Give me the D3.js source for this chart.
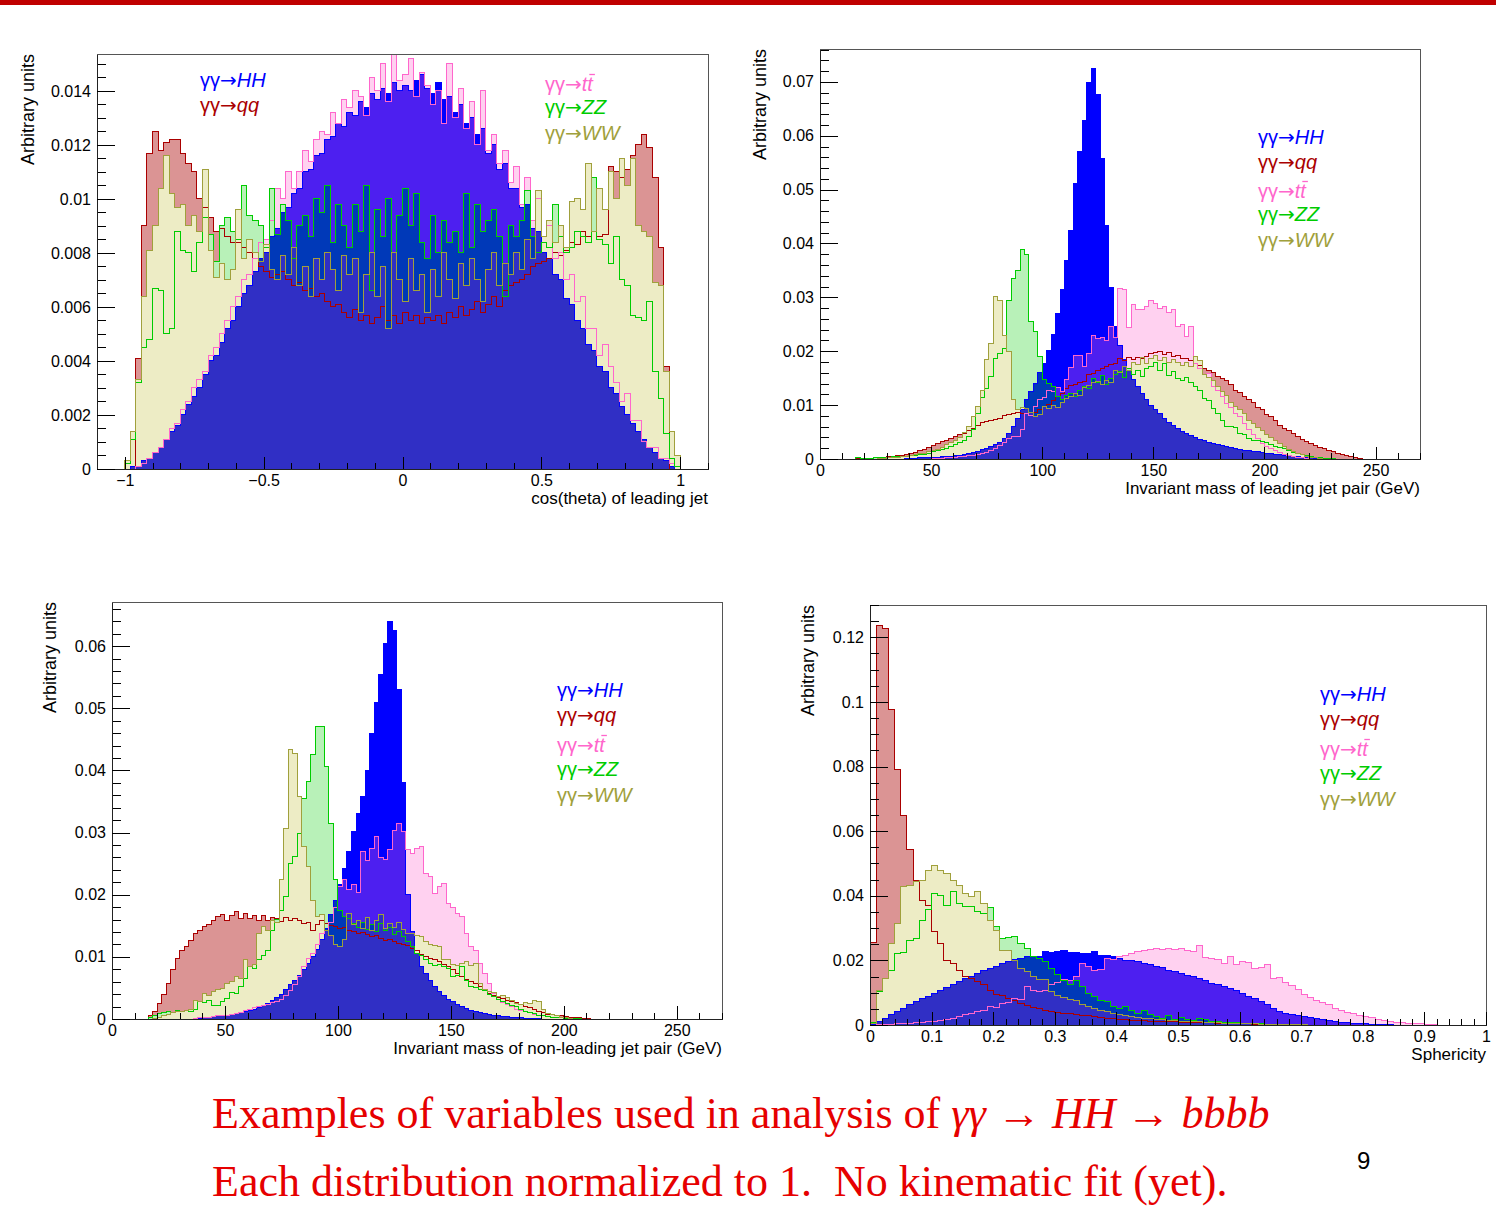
<!DOCTYPE html>
<html>
<head>
<meta charset="utf-8">
<script src="https://cdn.jsdelivr.net/npm/d3@7"></script>
<style>
body { margin: 0; background: #fff; }
svg text { font-family: "Liberation Sans", Arial, sans-serif; }
</style>
</head>
<body>
<svg id="chart" width="1496" height="1220"></svg>
<script>
// processes, in drawing order
var processes = ['HH', 'qq', 'tt', 'ZZ', 'WW'];

// ---- cos(theta) of leading jet : bins of 0.02 from -1, values x 1e-4
var cosStart = -1, cosStep = 0.02;
var cosHH = [0,1,1,3,4,6,8,11,14,16,20,24,27,30,35,40,42,47,52,55,60,65,68,73,78,80,86,89,95,97,102,104,110,111,116,117,122,123,128,127,132,131,136,134,139,137,141,139,143,140,
  142,140,144,146,141,139,143,137,138,132,135,128,130,124,126,117,120,111,113,104,104,97,98,89,88,80,78,72,70,63,61,55,52,46,44,38,36,30,28,23,20,17,14,11,8,6,4,3,1,0];
var cosQQ = [0,0,41,90,117,125,118,121,122,122,117,113,110,100,97,93,88,89,86,84,84,82,80,78,75,73,71,72,73,70,68,69,66,67,64,65,62,60,61,58,56,59,55,57,54,56,60,55,57,54,
  58,55,57,54,56,55,57,54,58,56,60,57,59,62,58,61,64,60,66,68,69,70,72,75,76,77,78,80,79,81,84,83,88,86,88,86,87,112,110,108,111,116,120,124,119,108,82,38,0,0];
var cosTT = [0,0,1,2,4,6,8,11,15,17,22,25,30,33,36,42,45,50,55,60,64,70,72,78,84,85,92,104,100,110,104,110,118,114,122,125,124,132,128,137,134,140,138,131,145,140,150,136,155,144,
  146,152,138,147,142,135,140,128,150,130,141,126,136,120,140,118,124,113,118,106,112,98,108,92,100,86,90,78,80,70,72,62,64,52,52,42,46,38,32,25,28,18,18,10,8,8,4,4,2,1];
var cosZZ = [2,11,32,45,48,67,66,50,52,88,81,80,73,84,93,87,77,90,93,88,85,105,94,92,90,82,104,87,98,92,78,90,94,86,100,95,105,84,98,90,82,98,88,105,66,96,86,100,80,94,
  104,90,102,84,78,94,80,92,84,88,80,102,82,98,88,92,96,86,64,90,86,92,103,86,80,84,82,98,86,80,82,88,86,84,108,85,83,76,86,70,68,57,56,55,62,36,26,13,4,1];
var cosWW = [3,14,33,64,81,90,104,116,102,97,98,90,94,88,111,81,71,76,70,74,96,78,85,80,77,83,74,70,79,72,82,68,75,64,78,70,80,74,66,79,72,78,58,72,80,64,75,52,80,70,
  62,78,66,72,58,74,64,80,70,63,76,68,78,70,62,74,80,68,76,72,80,74,85,78,103,86,92,84,90,82,99,100,96,113,88,104,96,110,100,115,105,115,90,88,86,69,68,36,14,5];

// ---- invariant mass of leading jet pair : 2 GeV bins from 16 GeV, values x 1e-3
var mLeadStart = 16, mLeadStep = 2;
var mLeadHH = [0,0,0,0,0,0,0,0,0,0,0,0.05,0.1,0.1,0.2,0.2,0.2,0.3,0.3,0.4,0.5,0.5,0.6,0.7,0.8,1.0,1.2,1.4,1.7,2.0,2.3,2.7,3.1,3.8,4.8,6.0,7.5,9.2,11,12.5,14,16,17.8,20.2,23.2,27,31.4,36.8,42.5,51.2,57.1,62.8,69.9,72.5,67.6,55.8,43.4,31.9,24.6,21,18.5,16.5,14.8,13.5,12.2,11,10,9.2,8.4,7.6,6.8,6.2,5.6,5.1,4.7,4.3,4,3.7,3.4,3.1,2.9,2.7,2.5,2.3,2.1,1.9,1.8,1.6,1.5,1.4,1.3,1.2,1.1,1.0,0.9,0.8,0.7,0.6,0.5,0.4,0.3,0.25,0.2,0.15,0.1,0.05];
var mLeadQQ = [0.05,0.1,0.1,0.15,0.2,0.25,0.3,0.4,0.5,0.6,0.7,0.85,1.0,1.2,1.5,1.8,2.2,2.5,2.8,3.2,3.5,3.8,4.2,4.5,4.8,5.2,5.7,6.2,6.8,7.0,7.2,7.4,7.5,8.0,8.3,8.5,8.6,8.4,8.5,8.7,8.6,9.2,9.7,10.2,10.8,11.6,12.2,13,13.7,13.9,14.2,14.4,15.6,15.9,16.4,16.8,17.1,17.5,17.8,18.6,18.3,18.8,18.5,18.9,18.7,19,19.5,19.8,20,19.4,19.7,19.1,19.3,18.7,18.6,18.2,17.8,17.4,16.8,16.5,16,15.4,15,14.5,13.8,12.8,12.3,11.6,11,10.4,9.6,9.1,8.3,7.9,7.2,6.2,5.6,5.2,4.7,4.2,3.7,3.3,2.9,2.5,2.2,1.9,1.5,1.3,1.0,0.8,0.6,0.4,0.2,0.1];
var mLeadTT = [0,0,0,0,0,0,0,0,0,0,0,0,0,0,0,0,0,0.1,0.1,0.15,0.2,0.25,0.3,0.4,0.5,0.6,0.7,0.85,1.0,1.2,1.5,2.0,2.5,3.0,3.8,4.2,4.1,5.5,8.5,8.0,9.8,11,11.5,12.8,12.5,13.2,12.6,14.7,17,19.3,19.3,17.2,19.5,23,22.4,22.6,22.0,24.6,22.5,31.7,31.5,24.5,28.6,27.7,27.7,28.3,29.5,28.8,28.0,28.3,27.2,27.8,24.6,25.0,22.7,24.6,17.8,16.8,15.6,15.9,13.4,12.8,11.6,10.3,9.6,8.5,7.9,6.5,5.4,4.5,3.8,2.9,2.4,2.0,1.5,1.2,0.9,0.6,0.4,0.3,0.2,0.1];
var mLeadZZ = [0.2,0.1,0.1,0.15,0.2,0.2,0.3,0.3,0.4,0.4,0.5,0.5,0.6,0.7,0.8,0.9,1.1,1.3,1.5,1.8,2.0,2.3,2.6,3.0,3.4,4.2,5.5,8.5,11.5,13.0,15.3,18.7,19.5,20.5,29.5,33.5,35.0,38.8,38.0,25.5,23.6,19.0,14.7,14.0,13.4,11.6,11.0,11.8,12.2,11.6,12.8,13.4,13.0,15.0,14.2,15.5,13.8,15.0,15.6,16.2,15.2,16.8,15.6,16.4,15.4,16.8,17.2,18.0,16.5,17.8,15.5,16.2,15.0,14.6,15.2,14.2,13.4,12.8,11.2,10.8,9.4,8.5,7.2,6.0,6.1,5.8,4.8,4.6,3.8,3.5,3.4,3.2,3.0,2.6,2.4,2.2,1.9,1.6,1.2,1.0,0.8,0.6,0.4,0.3,0.2,0.1,0.1,0.1];
var mLeadWW = [0,0,0,0,0,0.05,0.1,0.2,0.25,0.3,0.4,0.5,0.6,0.8,1.0,1.1,1.3,1.5,1.8,2.2,2.6,3.0,3.5,4.0,5.0,6.0,7.9,9.7,12.8,18.4,21.5,30.1,29.5,23.0,19.9,11.0,9.1,9.5,9.3,8.7,7.9,8.2,9.7,9.4,10.0,9.5,10.4,11.2,11.6,12.2,11.8,13.2,13.6,14.2,14.4,13.8,14.5,14.2,16.5,16.0,17.2,16.4,18.0,17.6,18.8,17.8,18.6,19.2,18.2,18.8,17.9,18.4,18.0,17.4,18.0,17.2,19.0,18.2,15.6,15.2,14.5,13.4,12.6,11.8,10.4,9.8,9.2,8.4,7.2,6.5,5.8,5.3,4.6,4.0,3.4,2.8,2.3,1.8,1.4,1.1,0.8,0.5,0.3,0.2,0.1];

// ---- invariant mass of non-leading jet pair : 2 GeV bins from 16 GeV, values x 1e-3
var mSubStart = 16, mSubStep = 2;
var mSubHH = [0,0,0,0,0,0,0,0,0,0,0,0.1,0.2,0.3,0.4,0.5,0.5,0.6,0.7,0.9,1.0,1.2,1.4,1.6,1.8,2.1,2.5,2.9,3.4,4.0,4.7,5.5,6.2,7.0,8.0,9.0,10,11.2,12.8,14.6,16.8,19.1,21.6,24.2,26.9,30.1,33,35.8,40,46,51,55.5,60.5,64,62.5,53,38,20,14,10.6,8.4,7.3,6.2,5.2,4.5,3.8,3.2,2.8,2.4,2.0,1.7,1.4,1.2,1.0,0.9,0.7,0.6,0.5,0.4,0.35,0.3,0.25,0.2,0.15,0.15,0.1,0.1];
var mSubQQ = [0.6,1.2,2.5,4,5.7,7.9,9.8,11.1,11.6,12.7,13.8,14.3,14.9,15.2,15.9,16.5,16.8,15.9,16.7,17.3,16.2,16.9,16.2,16.6,15.9,16.7,15.9,16.3,16.1,15.7,16.4,15.9,16.2,15.8,15.4,15.6,14.3,15.2,15.9,15.4,15.0,14.9,14.6,14.8,14.3,14.1,13.8,13.9,13.6,13.2,13.4,13.0,12.7,12.8,12.4,12.2,12.0,11.8,11.4,11,10.4,10,9.8,9.5,9.2,8.8,8.4,8.0,7.4,6.8,6.4,6.0,5.7,5.2,4.7,4.1,3.8,3.5,3.3,3.0,2.8,2.6,2.4,2.0,1.8,1.5,1.2,1.0,0.8,0.7,0.6,0.5,0.4,0.3,0.2,0.2,0.1,0.1];
var mSubTT = [0,0,0,0,0,0,0,0,0,0,0.1,0.2,0.3,0.3,0.4,0.5,0.5,0.6,0.7,0.9,1.1,1.3,1.6,1.8,2.0,2.2,2.4,2.6,2.8,3.2,3.8,4.6,5.6,6.8,8.5,9.8,10.6,12,13.8,14.3,15.5,18,21.3,22.4,20.8,21.6,20.4,26.9,25.5,27.5,29.3,26,25.6,27.2,30.4,31.5,30.1,27.2,26.6,27.5,27.7,23.4,22.9,20.2,21.3,21.8,18.6,18,17,16.5,13.8,11.6,11.1,9,7.3,5.7,4.1,3.1,2.7,2.3,2.0,1.6,1.3,1.2,1.0,0.8,0.6,0.5,0.4,0.3,0.2,0.2,0.1];
var mSubZZ = [0.2,0.6,0.9,1.1,1.2,1.1,1.3,1.2,1.4,1.2,1.6,2.8,2.6,2.9,2.1,2.2,2.8,3.3,4.3,4.1,5.2,6.5,8.4,8.2,9.5,10.2,11.1,14.3,16,17.5,19.7,25,26.1,29.9,35.5,38.2,42.5,47,47.1,40.6,31.5,22.4,17.5,16.5,16.2,15.4,14.8,15.6,14.4,15.2,14.0,15.4,14.2,14.8,13.6,14.0,13.2,12.4,11.6,10.6,10.2,9.5,9.0,8.6,8.8,8.4,8.2,6.8,7.0,8.4,6.2,5.2,5.0,4.7,4.6,3.9,3.6,3.2,2.8,2.5,2.2,2.0,1.6,1.2,1.1,0.9,0.6,0.5,0.4,0.3,0.2,0.2,0.1,0.1,0.1,0.1];
var mSubWW = [0,0.1,0.3,0.6,0.8,1.0,1.2,1.2,1.3,1.6,3.0,2.8,4.1,3.8,4.4,4.7,4.9,5.7,6.0,6.8,6.5,9.5,8.4,8.8,13.8,14.9,14.3,15.9,15.6,22.4,30.7,43.3,42.8,35.8,27.7,24.5,19.1,16.5,16.8,14.3,13.5,12.0,11.6,12.8,17.0,15.2,15.8,14.6,16.4,14.2,15.8,16.8,14.6,15.4,14.8,15.6,14.4,13.8,13.8,13.5,13.2,12.4,12.0,11.8,11.6,9.5,9.6,8.8,8.6,8.9,9.2,8.6,9.0,5.7,4.8,4.5,4.2,3.6,3.8,3.4,2.9,2.5,2.4,2.6,2.5,2.9,2.8,1.5,0.9,0.7,0.5,0.3,0.2,0.1];

// ---- sphericity : bins of 0.01 from 0, values x 1e-3
var sphStart = 0, sphStep = 0.01;
var sphHH = [0.2,1.0,2,3.1,4.1,5.2,6.2,7.2,8.2,8.8,9.8,10.8,11.6,12.4,13.4,14.4,15,16,16.8,17.5,18.2,19,19.6,20.3,20.6,21.1,21.3,21.1,22.7,22.4,22.7,23,22.4,22.4,22.2,22.2,22.7,21.6,21.6,21.1,20.6,20.1,19.9,19.6,19,18.7,18.2,17.8,17,16.5,16,15.2,15,14.4,13.9,12.9,12.4,11.9,11.3,10.8,9.8,8.8,8.2,7.2,6.2,5.2,4.1,3.7,3.3,2.9,2.5,2.2,1.9,1.6,1.3,1.1,0.9,0.7,0.55,0.45,0.35,0.25,0.2,0.15,0.1];
var sphQQ = [25.6,123.7,122.7,97.7,79,64.7,54.2,44.6,38.4,37,28.9,25.3,20.1,19,17,15,14.5,13.4,12.4,10.8,9.3,9.0,8.2,7.6,6.8,6.0,5.4,5.0,4.6,4.2,3.9,3.6,3.5,3.3,3.0,2.8,2.6,2.4,2.1,1.9,1.7,1.6,1.5,1.4,1.3,1.2,1.2,1.1,1.0,1.0,0.9,0.9,0.8,0.8,0.7,0.7,0.6,0.6,0.5,0.5,0.4,0.4,0.3,0.3,0.3,0.2,0.2,0.2,0.1,0.1];
var sphTT = [0,0.1,0.2,0.3,0.4,0.5,0.6,0.7,0.8,1.0,1.1,1.3,1.6,2.0,2.6,3.1,3.5,4.1,4.6,5.7,5.5,6.7,6.9,8.2,7.8,11.9,10.8,10.3,10.6,12.5,13.2,14.2,13.8,15,19,18.2,17,17.2,20.6,20.2,21.1,21.5,22.2,22.8,23.2,23.5,23.7,23.4,23.8,23.3,23.6,23,22.8,24.7,20.8,20.6,20.2,19,21.1,18.8,19.6,19.2,17.5,17.8,18.6,14.4,14.6,13.2,12.2,11,9.3,8.6,7.7,7,6.2,5.2,4.6,4,3.5,3,2.6,2.2,1.8,1.5,1.2,0.9,0.7,0.6,0.5,0.4,0.3,0.2];
var sphZZ = [0.8,10.3,14.4,17,22.2,22.5,26.3,26.8,32.5,35.6,40.7,40.2,37.1,41.2,37.6,36.6,36.6,35,34.5,36.3,30.4,26.8,27.1,27.5,25.3,23.7,21.1,20.6,19.6,17.5,15.5,13.9,12.4,13.9,11.9,9.8,8.8,7.7,7.2,5.7,5.2,5.7,4.6,3.6,4.5,3.1,2.6,2.1,2.8,1.8,2.4,1.6,1.4,2.1,1.6,1.2,1.0,0.9,0.8,0.7,0.6,0.5,0.5,0.4,0.3,0.3,0.2,0.2,0.1];
var sphWW = [0.5,10.8,14.5,25.3,31.4,42.8,43.3,44.3,44.6,47.9,49.3,47.9,46.9,44.8,43.3,40.7,39.7,41.2,37.6,32.5,29.4,23.2,23,20.1,17.5,16.5,15,14.2,14,10.3,9,8.6,7.9,7.6,6.2,5.6,5,4.6,4.2,3.6,3.2,3,2.6,2.3,2.1,1.9,1.8,1.6,1.4,1.3,1.2,1.1,1.0,1.0,0.9,0.8,0.7,0.6,0.6,0.5,0.5,0.4,0.4,0.3,0.3,0.3,0.2,0.2,0.2,0.1,0.1];

var colors = { HH: '#0000ff', qq: '#aa0000', tt: '#ff66cc', ZZ: '#00cc00', WW: '#a0a03c' };
// dot colour and share of pixels covered by the ROOT dot pattern of each process
var dotColors = { HH: '#0000ff', qq: '#aa0000', tt: '#ff66cc', ZZ: '#00cc00', WW: '#b8b420' };
var dotShare = { qq: 0.42, tt: 0.3, ZZ: 0.28, WW: 0.26 };

var panels = [
  { id: 'cos', start: cosStart, step: cosStep, unit: 1e-4,
    values: { HH: cosHH, qq: cosQQ, tt: cosTT, ZZ: cosZZ, WW: cosWW },
    xDomain: [-1.1, 1.1], yMax: 0.01537, left: 97, right: 708, top: 54, bottom: 469,
    xMajor: 0.5, xMinor: 0.1, yMajor: 0.002, yMinor: 0.0005,
    xTitle: 'cos(theta) of leading jet', yTitleX: 34,
    legend: [ { x: 200, rows: [['HH', 87], ['qq', 112]] },
              { x: 545, rows: [['tt', 91], ['ZZ', 114], ['WW', 140]] } ] },
  { id: 'mlead', start: mLeadStart, step: mLeadStep, unit: 1e-3,
    values: { HH: mLeadHH, qq: mLeadQQ, tt: mLeadTT, ZZ: mLeadZZ, WW: mLeadWW },
    xDomain: [0, 270], yMax: 0.0761, left: 820, right: 1420, top: 49, bottom: 459,
    xMajor: 50, xMinor: 10, yMajor: 0.01, yMinor: 0.002,
    xTitle: 'Invariant mass of leading jet pair (GeV)', yTitleX: 766,
    legend: [ { x: 1258, rows: [['HH', 144], ['qq', 169], ['tt', 198], ['ZZ', 221], ['WW', 247]] } ] },
  { id: 'msub', start: mSubStart, step: mSubStep, unit: 1e-3,
    values: { HH: mSubHH, qq: mSubQQ, tt: mSubTT, ZZ: mSubZZ, WW: mSubWW },
    xDomain: [0, 270], yMax: 0.0671, left: 112, right: 722, top: 602, bottom: 1019,
    xMajor: 50, xMinor: 10, yMajor: 0.01, yMinor: 0.002,
    xTitle: 'Invariant mass of non-leading jet pair (GeV)', yTitleX: 56,
    legend: [ { x: 557, rows: [['HH', 697], ['qq', 722], ['tt', 752], ['ZZ', 776], ['WW', 802]] } ] },
  { id: 'sph', start: sphStart, step: sphStep, unit: 1e-3,
    values: { HH: sphHH, qq: sphQQ, tt: sphTT, ZZ: sphZZ, WW: sphWW },
    xDomain: [0, 1], yMax: 0.13, left: 870, right: 1486, top: 605, bottom: 1025,
    xMajor: 0.1, xMinor: 0.02, yMajor: 0.02, yMinor: 0.005,
    xTitle: 'Sphericity', yTitleX: 814,
    legend: [ { x: 1320, rows: [['HH', 701], ['qq', 726], ['tt', 756], ['ZZ', 780], ['WW', 806]] } ] }
];

var svg = d3.select('#chart');
var defs = svg.append('defs');

svg.append('rect').attr('x', 0).attr('y', 0).attr('width', 1496).attr('height', 5).attr('fill', '#c00000');

function tickList(lo, hi, step) {
  var a = Math.ceil(lo / step - 1e-9), b = Math.floor(hi / step + 1e-9);
  return d3.range(a, b + 1).map(function(i) { return +(i * step).toFixed(6); });
}
function fmt(v) {
  if (v === 0) return '0';
  return (v < 0 ? '\u2212' : '') + String(+Math.abs(v).toFixed(4));
}

function drawPanel(p) {
  var x = d3.scaleLinear().domain(p.xDomain).range([p.left, p.right]);
  var y = d3.scaleLinear().domain([0, p.yMax]).range([p.bottom, p.top]);

  defs.append('clipPath').attr('id', 'clip-' + p.id)
    .append('rect').attr('x', p.left).attr('y', p.top)
    .attr('width', p.right - p.left).attr('height', p.bottom - p.top);

  var g = svg.append('g').attr('clip-path', 'url(#clip-' + p.id + ')');

  var nBins = d3.max(processes, function(k) { return p.values[k].length; });
  var end = p.start + nBins * p.step;
  function val(k, i) {
    var a = p.values[k];
    return i < a.length ? a[i] * p.unit : 0;
  }

  var band = d3.area().curve(d3.curveStepAfter)
    .x(function(d) { return x(d[0]); })
    .y0(function(d) { return y(d[1]); })
    .y1(function(d) { return y(d[2]); });
  var line = d3.line().curve(d3.curveStepAfter)
    .x(function(d) { return x(d[0]); }).y(function(d) { return y(d[1]); });

  // fills: later histograms overwrite the dots of earlier ones, so each
  // dotted process only shows above every process drawn after it
  processes.forEach(function(k, j) {
    var later = processes.slice(j + 1);
    var pts = d3.range(nBins).map(function(i) {
      var lo = k === 'HH' ? 0 : (d3.max(later, function(m) { return val(m, i); }) || 0);
      var hi = val(k, i);
      return [p.start + i * p.step, lo, Math.max(lo, hi)];
    });
    pts.push([end, pts[pts.length - 1][1], pts[pts.length - 1][2]]);
    g.append('path').datum(pts)
      .attr('d', band)
      .attr('fill', dotColors[k])
      .attr('fill-opacity', k === 'HH' ? 1 : dotShare[k])
      .style('shape-rendering', 'crispEdges');
  });

  processes.forEach(function(k) {
    var pts = d3.range(nBins).map(function(i) { return [p.start + i * p.step, val(k, i)]; });
    pts.push([end, val(k, nBins - 1)]);
    g.append('path').datum([[p.start, 0]].concat(pts, [[end, 0]]))
      .attr('d', line)
      .attr('fill', 'none')
      .attr('stroke', colors[k])
      .attr('stroke-width', 1)
      .style('shape-rendering', 'crispEdges');
  });

  // frame
  svg.append('rect').attr('x', p.left).attr('y', p.top)
    .attr('width', p.right - p.left).attr('height', p.bottom - p.top)
    .attr('fill', 'none').attr('stroke', '#555').style('shape-rendering', 'crispEdges');

  var tickH = 0.03 * (p.bottom - p.top), tickW = 0.03 * (p.right - p.left);

  var xMinor = svg.append('g').attr('transform', 'translate(0,' + p.bottom + ')')
    .call(d3.axisBottom(x).tickValues(tickList(p.xDomain[0], p.xDomain[1], p.xMinor))
      .tickSize(-tickH / 2).tickSizeOuter(0).tickFormat(''));
  xMinor.select('.domain').remove();

  var xAxis = svg.append('g').attr('transform', 'translate(0,' + p.bottom + ')')
    .call(d3.axisBottom(x).tickValues(tickList(p.xDomain[0], p.xDomain[1], p.xMajor))
      .tickSize(-tickH).tickSizeOuter(0).tickPadding(6).tickFormat(fmt));

  var yMinor = svg.append('g').attr('transform', 'translate(' + p.left + ',0)')
    .call(d3.axisLeft(y).tickValues(tickList(0, p.yMax, p.yMinor))
      .tickSize(-tickW / 2).tickSizeOuter(0).tickFormat(''));
  yMinor.select('.domain').remove();

  var yAxis = svg.append('g').attr('transform', 'translate(' + p.left + ',0)')
    .call(d3.axisLeft(y).tickValues(tickList(0, p.yMax, p.yMajor))
      .tickSize(-tickW).tickSizeOuter(0).tickPadding(6).tickFormat(fmt));

  [xMinor, xAxis, yMinor, yAxis].forEach(function(a) {
    a.attr('font-family', null).attr('font-size', null);
    a.selectAll('line').attr('stroke', '#000').style('shape-rendering', 'crispEdges');
    a.selectAll('.domain').attr('stroke', '#222').style('shape-rendering', 'crispEdges');
    a.selectAll('text').style('font-size', '16px').attr('fill', '#000');
  });

  // axis titles
  svg.append('text').attr('x', p.right).attr('y', p.bottom + 35)
    .attr('text-anchor', 'end').style('font-size', '17px').text(p.xTitle);
  svg.append('text').attr('transform', 'translate(' + p.yTitleX + ',' + p.top + ') rotate(-90)')
    .attr('text-anchor', 'end').style('font-size', '18px').text('Arbitrary units');

  // legends
  p.legend.forEach(function(col) {
    col.rows.forEach(function(r) {
      var k = r[0];
      var t = svg.append('text').attr('x', col.x).attr('y', r[1])
        .attr('fill', colors[k]).style('font-size', '20px');
      t.append('tspan').text('\u03b3\u03b3');
      t.append('tspan').style('font-family', '"DejaVu Sans", sans-serif').text('\u2192');
      t.append('tspan').style('font-style', 'italic').text(k);
      if (k === 'tt') {
        var ext = t.node().getExtentOfChar(4);
        svg.append('line')
          .attr('x1', ext.x + 2).attr('x2', ext.x + ext.width + 2)
          .attr('y1', r[1] - 16.5).attr('y2', r[1] - 16.5)
          .attr('stroke', colors[k]).attr('stroke-width', 1.3);
      }
    });
  });
}

panels.forEach(drawPanel);

// caption
var cap1 = svg.append('text').attr('x', 212).attr('y', 1128).attr('fill', '#e60000')
  .style('font-family', '"Liberation Serif", "Times New Roman", serif').style('font-size', '44px');
cap1.append('tspan').text('Examples of variables used in analysis of ');
cap1.append('tspan').style('font-style', 'italic').text('\u03b3\u03b3 \u2192 HH \u2192 bbbb');

svg.append('text').attr('x', 212).attr('y', 1196).attr('fill', '#e60000')
  .style('font-family', '"Liberation Serif", "Times New Roman", serif').style('font-size', '44px')
  .style('white-space', 'pre')
  .text('Each distribution normalized to 1.  No kinematic fit (yet).');

svg.append('text').attr('x', 1357).attr('y', 1169).style('font-size', '24px').attr('fill', '#000').text('9');
</script>
</body>
</html>
